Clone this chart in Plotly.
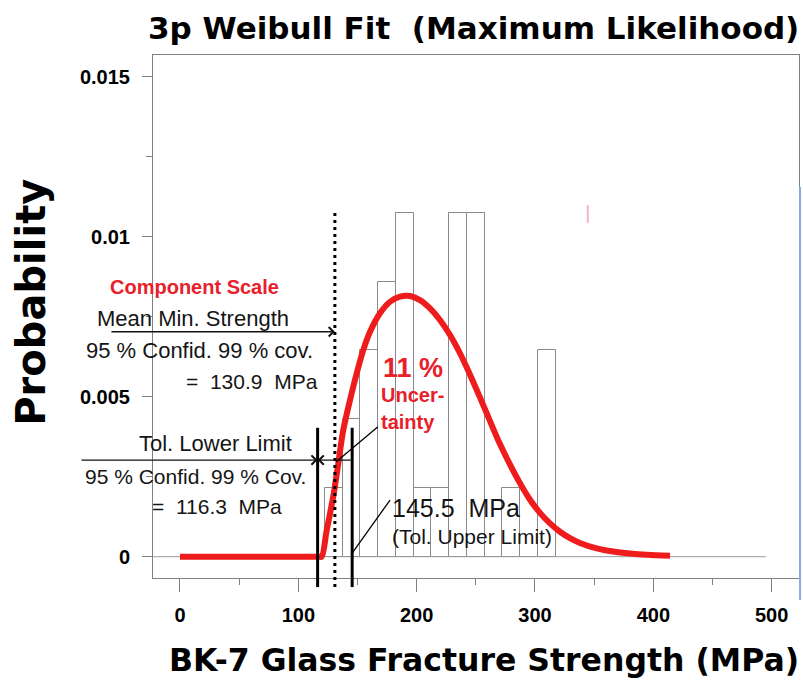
import plotly.graph_objects as go

# ---------------- data ----------------
bin_width = 15
bin_left_edges = [122.5, 137.5, 152.5, 167.5, 182.5, 197.5, 212.5, 227.5, 242.5, 257.5, 272.5, 287.5, 302.5]
bin_counts = [1, 2, 3, 4, 5, 1, 1, 5, 5, 0, 1, 0, 3]

fit_x = [0, 118.0, 119.7, 124.0, 129.5, 133.8, 138.0, 143.7, 149.3, 154.9, 160.6, 169.0, 177.5, 185.9,
         194.4, 202.8, 211.3, 219.7, 228.2, 236.6, 245.1, 253.5, 262.0, 270.4, 278.9, 287.3,
         295.8, 304.2, 312.7, 321.1, 329.6, 338.0, 352.1, 366.1, 380.3, 394.4, 414.1]
fit_y = [0, 0, 0, 0.00083, 0.00188, 0.00292, 0.00396, 0.0049, 0.00573, 0.00646, 0.00703, 0.00761,
         0.00797, 0.00813, 0.00815, 0.00802, 0.00776, 0.0074, 0.00693, 0.00636, 0.00569, 0.00498,
         0.00424, 0.00352, 0.00288, 0.00230, 0.00178, 0.00137, 0.00104, 0.00078, 0.00058, 0.00043,
         0.00026, 0.00016, 0.0001, 0.00006, 0.00003]

tol_lower = 116.3
mean_min = 130.9
tol_upper = 145.5
baseline_end = 495

x_tickvals = [0, 100, 200, 300, 400, 500]
x_ticktext = ["0", "100", "200", "300", "400", "500"]
y_tickvals = [0, 0.005, 0.01, 0.015]
y_ticktext = ["0", "0.005", "0.01", "0.015"]

# ---------------- derived ----------------
n_total = sum(bin_counts)
bin_centers = [e + bin_width / 2 for e in bin_left_edges]
density = [c / (n_total * bin_width) for c in bin_counts]

X0, X1 = -22.8, 523.1
Y0, Y1 = -0.000666, 0.015684


def yp(v):
    """data y -> paper y"""
    return (v - Y0) / (Y1 - Y0)


TFONT = "DejaVu Sans"
FONT = "Liberation Sans, Arial, sans-serif"
RED = "#e8202a"
GRAY = "#808080"
NB = "\u00a0"

fig = go.Figure()

fig.add_trace(go.Bar(
    x=bin_centers, y=density, width=bin_width,
    marker=dict(color="white", line=dict(color="#8a8a8a", width=1)),
    showlegend=False, hoverinfo="skip"))

fig.add_trace(go.Scatter(
    x=[X0 - 5, baseline_end], y=[0, 0], mode="lines",
    line=dict(color="#9a9a9a", width=1), showlegend=False, hoverinfo="skip"))

fig.add_trace(go.Scatter(
    x=fit_x, y=fit_y, mode="lines",
    line=dict(color="#ee1c1c", width=6, shape="spline", smoothing=1.0),
    showlegend=False, hoverinfo="skip"))

shapes = []
# vertical limit lines (extend below the frame)
for xv, top, dash in [(tol_lower, 0.00403, "solid"), (tol_upper, 0.00403, "solid"),
                      (mean_min, 0.0108, "3px,4px")]:
    shapes.append(dict(type="line", xref="x", yref="paper", x0=xv, x1=xv,
                       y0=yp(-0.00095), y1=yp(top),
                       line=dict(color="black", width=3, dash=dash), layer="above"))
# pointer lines
shapes.append(dict(type="line", xref="x", yref="y", x0=167.3, y0=0.00406, x1=131.8, y1=0.00296,
                   line=dict(color="black", width=1.3), layer="above"))
shapes.append(dict(type="line", xref="x", yref="y", x0=177.5, y0=0.00177, x1=tol_upper, y1=0.00011,
                   line=dict(color="black", width=1.3), layer="above"))
# scan artefacts (blue edge, pink tick)
shapes.append(dict(type="line", xref="paper", yref="paper", x0=1.0016, x1=1.0016, y0=-0.042, y1=0.748,
                   line=dict(color="#7fb0e6", width=2)))
shapes.append(dict(type="line", xref="paper", yref="paper", x0=0.673, x1=0.673, y0=0.679, y1=0.713,
                   line=dict(color="#f2b8c6", width=2)))

ann = []


def txt(text, x, y, size, color="#151515", bold=False, xanchor="center"):
    ann.append(dict(text=text, x=x, y=y, xref="x", yref="y", showarrow=False,
                    xanchor=xanchor, yanchor="middle",
                    font=dict(family=FONT, size=size, color=color,
                              weight="bold" if bold else "normal")))


def arrow(xh, yh, xt, yt):
    ann.append(dict(text="", x=xh, y=yh, ax=xt, ay=yt, xref="x", yref="y",
                    axref="x", ayref="y", showarrow=True, arrowhead=4,
                    arrowsize=1.3, arrowwidth=1.4, arrowcolor="#111111"))


txt("Component Scale", 12.0, 0.00844, 20, RED, bold=True)
txt("Mean Min. Strength", 11.2, 0.00745, 22)
arrow(mean_min, 0.00703, -59.2, 0.00703)
txt("95 % Confid. 99 % cov.", 16.9, 0.00646, 22)
txt(f"={NB} 130.9 {NB}MPa", 118.3, 0.00547, 21, xanchor="right")
txt("Tol. Lower Limit", 30.4, 0.00355, 22)
arrow(tol_lower, 0.00302, -84.5, 0.00302)
arrow(tol_lower, 0.00302, tol_upper, 0.00302)
txt("95 % Confid. 99 % Cov.", 13.5, 0.0025, 21)
txt(f"={NB} 116.3 {NB}MPa", 31.3, 0.00156, 21)
txt(f"145.5 {NB}MPa", 177.5, 0.00152, 25, xanchor="left")
txt("(Tol. Upper Limit)", 177.5, 0.000616, 21, xanchor="left")
txt("11 %", 196.5, 0.00589, 27, RED, bold=True)
txt("Uncer-", 196.5, 0.00505, 20, RED, bold=True)
txt("tainty", 192.7, 0.00422, 20, RED, bold=True)

# titles
ann.append(dict(text=f"3p Weibull Fit {NB}(Maximum Likelihood)", x=0.4955, y=1.0516,
                xref="paper", yref="paper", showarrow=False, xanchor="center", yanchor="middle",
                font=dict(family=TFONT, size=31, color="black", weight="bold")))
ann.append(dict(text="BK-7 Glass Fracture Strength (MPa)", x=0.512, y=-0.157,
                xref="paper", yref="paper", showarrow=False, xanchor="center", yanchor="middle",
                font=dict(family=TFONT, size=31.5, color="black", weight="bold")))
ann.append(dict(text="Probability", x=-0.189, y=0.528, textangle=-90,
                xref="paper", yref="paper", showarrow=False, xanchor="center", yanchor="middle",
                font=dict(family=TFONT, size=40, color="black", weight="bold")))

fig.update_layout(
    width=803, height=682,
    margin=dict(l=153, r=4, t=55, b=104),
    paper_bgcolor="white", plot_bgcolor="white",
    shapes=shapes, annotations=ann,
    bargap=0,
    xaxis=dict(range=[X0, X1], showgrid=False, zeroline=False,
               showline=True, mirror=True, linecolor=GRAY, linewidth=1,
               ticks="outside", ticklen=13, tickcolor=GRAY, tickwidth=1,
               tickvals=x_tickvals, ticktext=x_ticktext, ticklabelstandoff=6,
               minor=dict(ticks="outside", ticklen=6, dtick=50, tick0=0, tickcolor=GRAY, showgrid=False),
               tickfont=dict(family=FONT, size=20, color="black", weight="bold")),
    yaxis=dict(range=[Y0, Y1], showgrid=False, zeroline=False,
               showline=True, mirror=True, linecolor=GRAY, linewidth=1,
               ticks="outside", ticklen=10, tickcolor=GRAY, tickwidth=1,
               tickvals=y_tickvals, ticktext=y_ticktext, ticklabelstandoff=8,
               minor=dict(ticks="outside", ticklen=6, dtick=0.0025, tick0=0, tickcolor=GRAY, showgrid=False),
               tickfont=dict(family=FONT, size=20, color="black", weight="bold")),
)

fig.write_html("out.html")
